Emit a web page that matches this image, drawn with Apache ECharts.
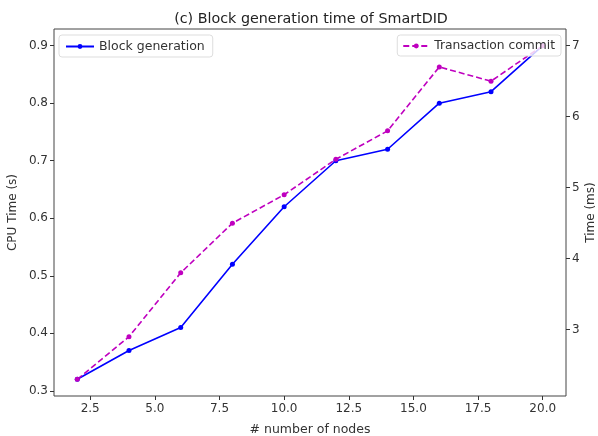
<!DOCTYPE html>
<html><head><meta charset="utf-8">
<script src="https://cdn.jsdelivr.net/npm/echarts@6/dist/echarts.min.js"></script>
<style>html,body{margin:0;padding:0;background:#fff}#c{width:598px;height:436px}</style>
</head><body><div id="c"></div>
<script>
const nodes = [2, 4, 6, 8, 10, 12, 14, 16, 18, 20];
const blockGen = [0.32, 0.37, 0.41, 0.52, 0.62, 0.70, 0.72, 0.80, 0.82, 0.90];
const txCommit = [2.3, 2.9, 3.8, 4.5, 4.9, 5.4, 5.8, 6.7, 6.5, 7.0];
const xTicks = [2.5, 5.0, 7.5, 10.0, 12.5, 15.0, 17.5, 20.0];
const yLeftTicks = [0.3, 0.4, 0.5, 0.6, 0.7, 0.8, 0.9];
const yRightTicks = [3, 4, 5, 6, 7];

const font = 'DejaVu Sans';
const txt = '#333';
const chart = echarts.init(document.getElementById('c'));
const tickStyle = { show: true, inside: false, length: 4, lineStyle: { color: '#333', width: 1 } };
chart.setOption({
  animation: false,
  title: { text: '(c) Block generation time of SmartDID', left: 306, textAlign: 'center', top: 7,
    textStyle: { fontFamily: font, fontSize: 14.3, fontWeight: 'normal', color: '#222' } },
  grid: { left: 54, right: 32, top: 29, bottom: 40, outerBoundsMode: 'none', containLabel: false,
    show: true, borderColor: '#444', borderWidth: 1, backgroundColor: 'transparent' },
  legend: [
    { data: ['Block generation'], left: 59, top: 35, orient: 'vertical', itemWidth: 28, itemHeight: 6,
      backgroundColor: 'rgba(255,255,255,0.8)', borderColor: '#ddd', borderWidth: 1, borderRadius: 3, padding: [5, 8, 4, 6],
      textStyle: { fontFamily: font, fontSize: 12.5, color: txt } },
    { data: ['Transaction commit'], right: 37, top: 35, orient: 'vertical', itemWidth: 26, itemHeight: 6,
      backgroundColor: 'rgba(255,255,255,0.8)', borderColor: '#ddd', borderWidth: 1, borderRadius: 3, padding: [5, 6, 4, 5],
      textStyle: { fontFamily: font, fontSize: 12.3, color: txt } }
  ],
  xAxis: { type: 'value', min: 1.1, max: 20.9, name: '# number of nodes', nameLocation: 'middle', nameGap: 27,
    nameMoveOverlap: false,
    nameTextStyle: { fontFamily: font, fontSize: 12.5, color: txt },
    axisLine: { show: false }, splitLine: { show: false },
    axisTick: Object.assign({ customValues: xTicks }, tickStyle),
    axisLabel: { customValues: xTicks, formatter: v => v.toFixed(1), fontFamily: font, fontSize: 12, color: txt, margin: 7 } },
  yAxis: [
    { type: 'value', min: 0.291, max: 0.929, name: 'CPU Time (s)', nameLocation: 'middle', nameGap: 35,
      nameMoveOverlap: false,
      nameTextStyle: { fontFamily: font, fontSize: 12, color: txt },
      axisLine: { show: false }, splitLine: { show: false },
      axisTick: Object.assign({ customValues: yLeftTicks }, tickStyle),
      axisLabel: { customValues: yLeftTicks, formatter: v => v.toFixed(1), fontFamily: font, fontSize: 12, color: txt, margin: 6 } },
    { type: 'value', position: 'right', min: 2.065, max: 7.235, name: 'Time (ms)', nameLocation: 'middle', nameGap: 19,
      nameRotate: 90, nameMoveOverlap: false,
      nameTextStyle: { fontFamily: font, fontSize: 12, color: txt },
      axisLine: { show: false }, splitLine: { show: false },
      axisTick: Object.assign({ customValues: yRightTicks }, tickStyle),
      axisLabel: { customValues: yRightTicks, formatter: v => String(v), fontFamily: font, fontSize: 12, color: txt, margin: 6 } }
  ],
  series: [
    { name: 'Block generation', type: 'line', yAxisIndex: 0, data: nodes.map((x, i) => [x, blockGen[i]]),
      symbol: 'circle', symbolSize: 5, showAllSymbol: true,
      lineStyle: { color: '#0000ff', width: 1.6 }, itemStyle: { color: '#0000ff' } },
    { name: 'Transaction commit', type: 'line', yAxisIndex: 1, data: nodes.map((x, i) => [x, txCommit[i]]),
      symbol: 'circle', symbolSize: 5, showAllSymbol: true,
      lineStyle: { color: '#bf00bf', width: 1.6, type: [6, 3] }, itemStyle: { color: '#bf00bf' } }
  ]
});
</script></body></html>
